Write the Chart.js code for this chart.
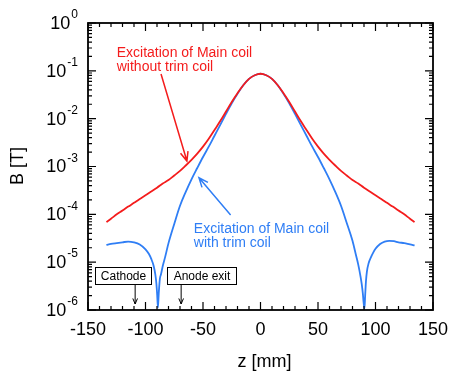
<!DOCTYPE html>
<html>
<head>
<meta charset="utf-8">
<script src="https://cdn.jsdelivr.net/npm/chart.js@4/dist/chart.umd.min.js"></script>
<style>
  html, body { margin: 0; padding: 0; background: #fff; }
  #wrap { width: 451px; height: 371px; }
</style>
</head>
<body>
<div id="wrap"><canvas id="fieldChart"></canvas></div>
<script>
// axial field B(z)
const zMain = [-134, -130, -125, -120, -115, -110, -105, -100, -95, -90, -85, -80, -75, -70, -65, -60, -55, -50, -45, -40, -35, -30, -25, -20, -15, -10, -5,
  0, 5, 10, 15, 20, 25, 30, 35, 40, 45, 50, 55, 60, 65, 70, 75, 80, 85, 90, 95, 100, 105, 110, 115, 120, 125, 130, 134];
const bMain = [6.9e-5, 8.1e-5, 1.0e-4, 1.2e-4, 1.45e-4, 1.74e-4, 2.1e-4, 2.5e-4, 3.0e-4, 3.6e-4, 4.4e-4, 5.2e-4, 6.5e-4, 8.1e-4, 1.05e-3, 1.38e-3, 1.86e-3, 2.6e-3, 3.8e-3, 5.8e-3, 8.9e-3, 1.41e-2, 2.24e-2, 3.4e-2, 5.0e-2, 6.8e-2, 8.1e-2,
  8.7e-2, 8.1e-2, 6.8e-2, 5.0e-2, 3.4e-2, 2.24e-2, 1.41e-2, 8.9e-3, 5.8e-3, 3.8e-3, 2.6e-3, 1.86e-3, 1.38e-3, 1.05e-3, 8.1e-4, 6.5e-4, 5.2e-4, 4.4e-4, 3.6e-4, 3.0e-4, 2.5e-4, 2.1e-4, 1.74e-4, 1.45e-4, 1.2e-4, 1.0e-4, 8.1e-5, 6.9e-5];

const zTrim = [-134, -130, -125, -120, -115, -110, -105, -100, -97, -95, -93, -91.5, -90.5, -89.8, -89.2, -88.5, -87.5, -86.5, -85, -83, -80, -75, -70, -65, -60, -55, -50, -45, -40, -35, -30, -25, -20, -15, -10, -5,
  0, 5, 10, 15, 20, 25, 30, 35, 40, 45, 50, 55, 60, 65, 70, 75, 80, 83, 85, 87, 88, 89, 89.7, 90.4, 91, 91.7, 92.5, 94, 96, 98, 100, 104, 108, 112, 116, 120, 125, 130, 134];
const bTrim = [2.3e-5, 2.4e-5, 2.5e-5, 2.6e-5, 2.7e-5, 2.6e-5, 2.35e-5, 1.86e-5, 1.48e-5, 1.17e-5, 8.5e-6, 5.6e-6, 3.5e-6, 2.0e-6, 1.12e-6, 2.2e-6, 4.5e-6, 5.6e-6, 8.3e-6, 1.26e-5, 2.5e-5, 6.3e-5, 1.51e-4, 2.95e-4, 5.4e-4, 9.3e-4, 1.58e-3, 2.6e-3, 4.4e-3, 7.4e-3, 1.26e-2, 2.1e-2, 3.3e-2, 5.0e-2, 6.8e-2, 8.1e-2,
  8.7e-2, 8.1e-2, 6.8e-2, 5.0e-2, 3.3e-2, 2.1e-2, 1.26e-2, 7.4e-3, 4.4e-3, 2.6e-3, 1.58e-3, 9.3e-4, 5.4e-4, 2.95e-4, 1.51e-4, 6.6e-5, 2.8e-5, 1.41e-5, 8.9e-6, 5.0e-6, 3.5e-6, 2.2e-6, 1.4e-6, 1.07e-6, 2.0e-6, 4.0e-6, 6.3e-6, 9.5e-6, 1.26e-5, 1.58e-5, 1.9e-5, 2.4e-5, 2.7e-5, 2.8e-5, 2.75e-5, 2.6e-5, 2.5e-5, 2.35e-5, 2.25e-5];

const xTicks = [-150, -100, -50, 0, 50, 100, 150];
const yExponents = [0, -1, -2, -3, -4, -5, -6];

const RED = '#f41c1c';
const BLUE = '#2f7ef5';
const FONT = 'Liberation Sans, Arial, Helvetica, sans-serif';

function arrow(ctx, x1, y1, x2, y2, color, head) {
  const a = Math.atan2(y2 - y1, x2 - x1);
  ctx.strokeStyle = color;
  ctx.beginPath();
  ctx.moveTo(x1, y1);
  ctx.lineTo(x2, y2);
  ctx.moveTo(x2 - head * Math.cos(a - 0.4), y2 - head * Math.sin(a - 0.4));
  ctx.lineTo(x2, y2);
  ctx.lineTo(x2 - head * Math.cos(a + 0.4), y2 - head * Math.sin(a + 0.4));
  ctx.stroke();
}

const framePlugin = {
  id: 'frame',
  afterDraw(chart) {
    const ctx = chart.ctx;
    const xs = chart.scales.x, ys = chart.scales.y;
    const a = chart.chartArea;
    const px = v => xs.getPixelForValue(v);
    const py = v => ys.getPixelForValue(v);
    ctx.save();
    ctx.lineWidth = 1.8;
    ctx.strokeStyle = '#000';
    ctx.strokeRect(a.left, a.top, a.right - a.left, a.bottom - a.top);

    // inward ticks
    ctx.lineWidth = 1.2;
    ctx.beginPath();
    for (let v = -150; v <= 150; v += 10) {
      const x = px(v);
      const len = v % 50 === 0 ? 8 : 4;
      ctx.moveTo(x, a.bottom); ctx.lineTo(x, a.bottom - len);
      ctx.moveTo(x, a.top); ctx.lineTo(x, a.top + len);
    }
    for (let e = -6; e <= 0; e++) {
      for (let k = 1; k <= 9; k++) {
        if (e === 0 && k > 1) break;
        const y = py(k * Math.pow(10, e));
        const len = k === 1 ? 8 : 4;
        ctx.moveTo(a.left, y); ctx.lineTo(a.left + len, y);
        ctx.moveTo(a.right, y); ctx.lineTo(a.right - len, y);
      }
    }
    ctx.stroke();

    // tick labels
    ctx.fillStyle = '#000';
    ctx.font = '18px ' + FONT;
    ctx.textAlign = 'center';
    ctx.textBaseline = 'middle';
    xTicks.forEach(v => ctx.fillText(String(v), px(v), a.bottom + 20));
    yExponents.forEach(e => {
      const y = py(Math.pow(10, e));
      const sup = String(e);
      ctx.font = '12px ' + FONT;
      const sw = ctx.measureText(sup).width;
      ctx.textAlign = 'right';
      ctx.fillText(sup, 78, y - 8);
      ctx.font = '18px ' + FONT;
      ctx.fillText('10', 78 - sw - 1, y + 1);
    });

    // axis titles
    ctx.textAlign = 'center';
    ctx.font = '18px ' + FONT;
    ctx.fillText('z [mm]', (a.left + a.right) / 2 + 4, 362);
    ctx.save();
    ctx.translate(18, 166);
    ctx.rotate(-Math.PI / 2);
    ctx.fillText('B [T]', 0, 0);
    ctx.restore();

    // curve labels
    ctx.textAlign = 'left';
    ctx.textBaseline = 'alphabetic';
    ctx.font = '14px ' + FONT;
    ctx.fillStyle = RED;
    ctx.fillText('Excitation of Main coil', px(-125), 57);
    ctx.fillText('without trim coil', px(-125), 71);
    ctx.lineWidth = 1.5;
    arrow(ctx, px(-86.5), 74, px(-64), py(1.3e-3), RED, 10);

    ctx.fillStyle = BLUE;
    ctx.fillText('Excitation of Main coil', px(-58), 233);
    ctx.fillText('with trim coil', px(-58), 247);
    arrow(ctx, px(-26), 215, px(-53.5), py(5.8e-4), BLUE, 10);

    // position markers
    ctx.font = '12px ' + FONT;
    ctx.textBaseline = 'middle';
    ctx.textAlign = 'center';
    ctx.fillStyle = '#000';
    ctx.lineWidth = 1;
    const boxes = [
      { text: 'Cathode', z: -109, left: 95, right: 151 },
      { text: 'Anode exit', z: -69, left: 167, right: 236 }
    ];
    boxes.forEach(b => {
      ctx.strokeStyle = '#000';
      ctx.fillStyle = '#fff';
      ctx.fillRect(b.left, 267, b.right - b.left, 17);
      ctx.strokeRect(b.left + 0.5, 267.5, b.right - b.left, 17);
      ctx.fillStyle = '#000';
      ctx.fillText(b.text, (b.left + b.right) / 2 + 0.5, 276.5);
      arrow(ctx, px(b.z), 285, px(b.z), 304, '#000', 6);
    });
    ctx.restore();
  }
};

new Chart(document.getElementById('fieldChart'), {
  type: 'line',
  data: {
    datasets: [
      {
        label: 'Excitation of Main coil without trim coil',
        data: zMain.map((z, i) => ({ x: z, y: bMain[i] })),
        borderColor: RED,
        borderWidth: 1.8,
        pointRadius: 0,
        cubicInterpolationMode: 'monotone'
      },
      {
        label: 'Excitation of Main coil with trim coil',
        data: zTrim.map((z, i) => ({ x: z, y: bTrim[i] })),
        borderColor: BLUE,
        borderWidth: 1.8,
        pointRadius: 0,
        cubicInterpolationMode: 'monotone'
      }
    ]
  },
  options: {
    responsive: true,
    maintainAspectRatio: false,
    animation: false,
    layout: { padding: { left: 88, right: 18, top: 23, bottom: 61 } },
    plugins: { legend: { display: false }, tooltip: { enabled: false } },
    scales: {
      x: { type: 'linear', min: -150, max: 150, display: false },
      y: { type: 'logarithmic', min: 1e-6, max: 1, display: false }
    }
  },
  plugins: [framePlugin]
});
</script>
</body>
</html>
